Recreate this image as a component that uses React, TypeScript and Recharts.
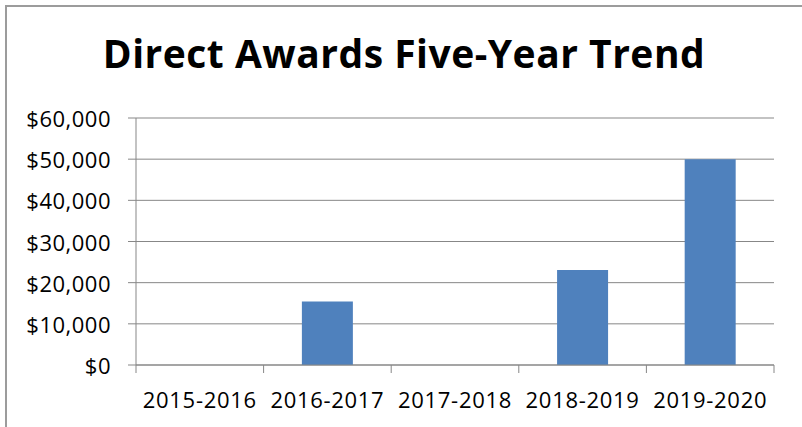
import React from "react";
import { BarChart, Bar, XAxis, YAxis, CartesianGrid } from "recharts";

const TITLE = "Direct Awards Five-Year Trend";
const categories = ["2015-2016", "2016-2017", "2017-2018", "2018-2019", "2019-2020"];
const awards = [0, 15400, 0, 23100, 50000];
const yTicks = [0, 10000, 20000, 30000, 40000, 50000, 60000];

const data = categories.map((c, i) => ({ year: c, value: awards[i] }));

const W = 802;
const H = 427;
const MARGIN = { top: 118, right: 28, bottom: 0, left: 0 };
const Y_AXIS_W = 136;
const X_AXIS_H = 62;
const GRAY = "#878787";
const FONT = "'Open Sans', sans-serif";
const BAND = (W - MARGIN.left - MARGIN.right - Y_AXIS_W) / categories.length;

const fmt = (v: number) => "$" + v.toLocaleString("en-US");

const XTick = (props: any) => {
  const { x, y, payload, index } = props;
  const half = BAND / 2;
  return (
    <g>
      {index === 0 && (
        <line x1={x - half} x2={x - half} y1={y} y2={y + 8} stroke={GRAY} strokeWidth={1} />
      )}
      <line x1={x + half} x2={x + half} y1={y} y2={y + 8} stroke={GRAY} strokeWidth={1} />
      <text
        x={x}
        y={y + 43}
        textAnchor="middle"
        fill="#000"
        style={{ fontFamily: FONT, fontSize: 22, letterSpacing: 0.7 }}
      >
        {payload.value}
      </text>
    </g>
  );
};

const YTick = (props: any) => {
  const { x, y, payload } = props;
  return (
    <text
      x={x + 1}
      y={y}
      textAnchor="end"
      dominantBaseline="central"
      fill="#000"
      style={{ fontFamily: FONT, fontSize: 22, letterSpacing: 0.5 }}
    >
      {fmt(payload.value)}
    </text>
  );
};

export default function App() {
  return (
    <div style={{ position: "absolute", left: 0, top: 0, width: W, height: H, background: "#fff", overflow: "hidden" }}>
      <BarChart width={W} height={H} data={data} margin={MARGIN} barCategoryGap="30%">
        <CartesianGrid horizontal={true} vertical={false} stroke={GRAY} strokeWidth={1} />
        <XAxis
          dataKey="year"
          height={X_AXIS_H}
          axisLine={{ stroke: GRAY, strokeWidth: 1 }}
          tickLine={false}
          tickSize={0}
          tickMargin={0}
          interval={0}
          tick={<XTick />}
        />
        <YAxis
          width={Y_AXIS_W}
          domain={[0, 60000]}
          ticks={yTicks}
          interval={0}
          axisLine={{ stroke: GRAY, strokeWidth: 1 }}
          tickLine={{ stroke: GRAY, strokeWidth: 1 }}
          tickSize={8}
          tickMargin={18}
          tick={<YTick />}
        />
        <Bar dataKey="value" fill="#4F81BD" isAnimationActive={false} />
      </BarChart>
      <svg
        width={W}
        height={H}
        style={{ position: "absolute", left: 0, top: 0, pointerEvents: "none" }}
      >
        <line x1={6} x2={6} y1={5} y2={H} stroke="#9c9c9c" strokeWidth={2} />
        <line x1={5} x2={W} y1={6} y2={6} stroke="#9c9c9c" strokeWidth={2} />
        <text
          x={404}
          y={68}
          textAnchor="middle"
          fill="#000"
          style={{ fontFamily: FONT, fontSize: 39, fontWeight: 700, letterSpacing: 0.5 }}
        >
          {TITLE}
        </text>
      </svg>
    </div>
  );
}
